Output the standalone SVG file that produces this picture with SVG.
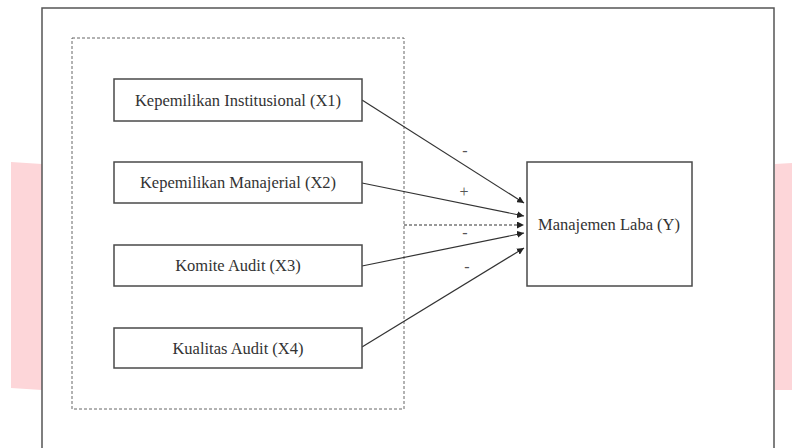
<svg xmlns="http://www.w3.org/2000/svg" width="792" height="448" viewBox="0 0 792 448">
<style>
.box{fill:#fff;stroke:#4a4a4a;stroke-width:1.5}
.lbl{font-family:'Liberation Serif','DejaVu Serif','Times New Roman',serif;font-size:16.5px;fill:#333;text-anchor:middle}
.sign{font-family:'Liberation Serif','DejaVu Serif','Times New Roman',serif;font-size:16px;fill:#555;text-anchor:middle}
.conn{stroke:#333;stroke-width:1.2;fill:none;marker-end:url(#ah)}
</style>
<defs>
<marker id="ah" viewBox="0 0 10 10" refX="10" refY="5" markerWidth="7" markerHeight="7" markerUnits="userSpaceOnUse" orient="auto">
<path d="M0,0 L10,5 L0,10 z" fill="#222"/>
</marker>
</defs>
<rect x="0" y="0" width="792" height="448" fill="#fff"/>
<path d="M11,162 L42,164 L42,390 L11,388 z" fill="#fdd6d9"/>
<path d="M775,164 L792,163 L792,390 L775,390 z" fill="#fdd6d9"/>
<path d="M42,460 L42,8 L774,8 L774,460" fill="none" stroke="#555" stroke-width="1.5"/>
<rect x="72" y="38" width="332" height="371" fill="none" stroke="#666" stroke-width="1" stroke-dasharray="3,2"/>
<g id="connectors">
<line class="conn" x1="362" y1="100" x2="524" y2="203"/>
<line class="conn" x1="362" y1="183" x2="524" y2="216"/>
<line class="conn" x1="404" y1="225" x2="524" y2="225" stroke-dasharray="3,2"/>
<line class="conn" x1="362" y1="266" x2="524" y2="233"/>
<line class="conn" x1="362" y1="347" x2="524" y2="248"/>
</g>
<g id="signs">
<text class="sign" x="465" y="156">-</text>
<text class="sign" x="464" y="197">+</text>
<text class="sign" x="465" y="238">-</text>
<text class="sign" x="467" y="272">-</text>
</g>
<g id="x1"><rect class="box" x="114" y="79" width="248" height="42"/><text class="lbl" x="238" y="106">Kepemilikan Institusional (X1)</text></g>
<g id="x2"><rect class="box" x="114" y="162" width="248" height="41"/><text class="lbl" x="238" y="188">Kepemilikan Manajerial (X2)</text></g>
<g id="x3"><rect class="box" x="114" y="245" width="248" height="41"/><text class="lbl" x="238" y="271">Komite Audit (X3)</text></g>
<g id="x4"><rect class="box" x="114" y="328" width="248" height="40"/><text class="lbl" x="238" y="354">Kualitas Audit (X4)</text></g>
<g id="y"><rect class="box" x="527" y="162" width="165" height="124"/><text class="lbl" x="609" y="230">Manajemen Laba (Y)</text></g>
</svg>
